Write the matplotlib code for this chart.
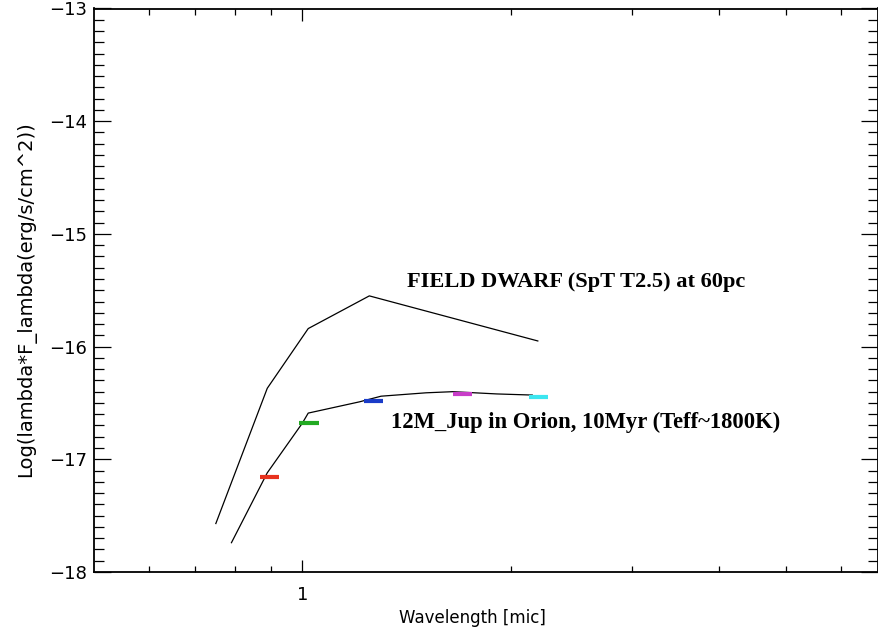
import numpy as np
import matplotlib
matplotlib.use('Agg')
import matplotlib.pyplot as plt
from matplotlib.ticker import FixedLocator, NullFormatter, MultipleLocator

# Datos
dwarf_wl = [0.75, 0.89, 1.02, 1.25, 2.19]
dwarf_flux = [-17.57, -16.37, -15.84, -15.55, -15.95]

model_wl = [0.79, 0.89, 1.00, 1.02, 1.21, 1.30, 1.51, 1.65, 1.91, 2.15]
model_flux = [-17.74, -17.12, -16.68, -16.59, -16.49, -16.44, -16.41, -16.40, -16.42, -16.43]

band_wl = [0.896, 1.023, 1.267, 1.706, 2.194]
band_flux = [-17.16, -16.68, -16.485, -16.42, -16.45]
band_colors = ['#e8321e', '#22aa22', '#1a3cc8', '#c83cc8', '#3ce6f0']

x_major = [1]
x_minor = [0.6, 0.7, 0.8, 0.9, 2, 3, 4, 5, 6]
y_major = [-18, -17, -16, -15, -14, -13]

W, H = 879, 630
fig = plt.figure(figsize=(W / 100, H / 100), dpi=100)
ax = fig.add_axes([94 / W, (H - 572) / H, (878 - 94) / W, (572 - 8.5) / H])

# Curvas
ax.plot(dwarf_wl, dwarf_flux, color='black', lw=0.9)
ax.plot(model_wl, model_flux, color='black', lw=0.9)

# Barras de fotometría
fac = 10 ** 0.014
bw = np.array(band_wl)
ax.hlines(band_flux, bw / fac, bw * fac, colors=band_colors, lw=3.0)

# Textos
ax.text(1.419, -15.47, 'FIELD DWARF (SpT T2.5) at 60pc', family='Liberation Serif',
        weight='bold', fontsize=16.1, va='baseline')
ax.text(1.344, -16.72, '12M_Jup in Orion, 10Myr (Teff~1800K)', family='Liberation Serif',
        weight='bold', fontsize=16.3, va='baseline')

# Ejes
ax.set_xscale('log')
ax.set_xlim(0.5, 10 ** ((878 - 303) / 691))
ax.set_ylim(-18, -13)
ax.xaxis.set_major_locator(FixedLocator(x_major))
ax.set_xticklabels(['1'])
ax.xaxis.set_minor_locator(FixedLocator(x_minor))
ax.xaxis.set_minor_formatter(NullFormatter())
ax.yaxis.set_major_locator(FixedLocator(y_major))
ax.yaxis.set_minor_locator(MultipleLocator(0.1))

for s in ax.spines.values():
    s.set_linewidth(1.3)

ax.tick_params(axis='x', which='both', direction='in', top=True, bottom=True,
               labelsize=13, width=0.9, pad=10)
ax.tick_params(axis='x', which='major', length=8.6)
ax.tick_params(axis='x', which='minor', length=4.3)
ax.tick_params(axis='y', which='both', direction='in', left=True, right=True,
               labelsize=13, width=0.9, pad=5)
ax.tick_params(axis='y', which='major', length=12.5)
ax.tick_params(axis='y', which='minor', length=7)

ax.set_xlabel('Wavelength [mic]', fontsize=12)
ax.xaxis.set_label_coords((472 - 94) / 784, -(609 - 572) / 563.5)
ax.set_ylabel('Log(lambda*F_lambda(erg/s/cm^2))', fontsize=14)
ax.yaxis.set_label_coords((36 - 94) / 784, 0.485)

fig.savefig('out.png', dpi=100)
